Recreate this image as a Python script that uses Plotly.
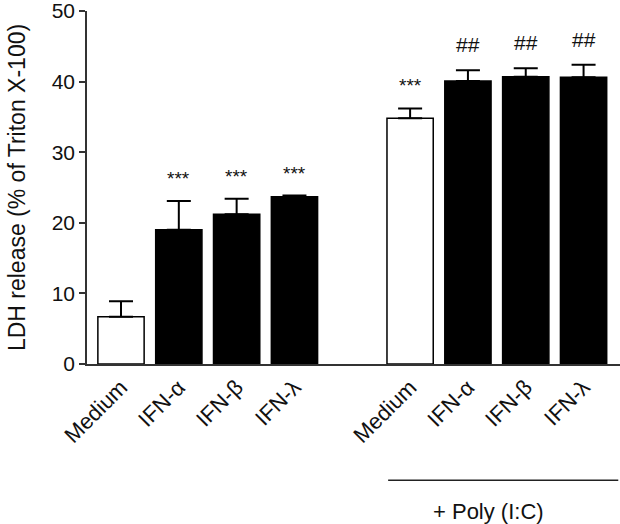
import plotly.graph_objects as go

# ---- data ----
group_labels = ["Medium", "IFN-α", "IFN-β", "IFN-λ"]
ldh_control = [6.7, 19.0, 21.2, 23.7]
err_control = [2.2, 4.1, 2.2, 0.15]
ldh_polyic = [34.8, 40.1, 40.7, 40.6]
err_polyic = [1.4, 1.5, 1.2, 1.8]
sig_control = ["", "***", "***", "***"]
sig_polyic = ["***", "##", "##", "##"]
y_ticks = [0, 10, 20, 30, 40, 50]

FONT = "Arial, Liberation Sans, Helvetica, sans-serif"

n = len(group_labels)
x_ctrl = list(range(n))
x_poly = [n + 1 + i for i in range(n)]

values = ldh_control + ldh_polyic
errs = err_control + err_polyic
xs = x_ctrl + x_poly
labels = group_labels + group_labels
sigs = sig_control + sig_polyic
fills = ["white" if lab == "Medium" else "black" for lab in labels]

fig = go.Figure()
fig.add_trace(go.Bar(
    x=xs, y=values, width=0.8,
    marker=dict(color=fills, line=dict(color="black", width=1.5)),
    error_y=dict(type="data", array=errs, arrayminus=[0] * len(errs),
                 symmetric=False, color="black", thickness=2, width=12),
    hoverinfo="skip", showlegend=False,
))

for x, v, e, s in zip(xs, values, errs, sigs):
    if s:
        star = s.startswith("*")
        fig.add_annotation(
            x=x, y=v + e, xref="x", yref="y", text=s, showarrow=False,
            yanchor="bottom", yshift=10 if star else 12,
            font=dict(family=FONT, size=19 if star else 21, color="#111"),
        )

# Poly (I:C) bracket line and label
fig.add_shape(type="line", xref="x", yref="paper",
              x0=x_poly[0] - 0.38, x1=x_poly[-1] + 0.6, y0=-0.329, y1=-0.329,
              line=dict(color="#222", width=1.5))
fig.add_annotation(x=(x_poly[0] + x_poly[-1]) / 2 - 0.15, y=-0.418, xref="x", yref="paper",
                   text="+ Poly (I:C)", showarrow=False, yanchor="middle",
                   font=dict(family=FONT, size=22, color="#111"))

fig.update_layout(
    width=620, height=524,
    margin=dict(l=87, r=0, t=11, b=160),
    plot_bgcolor="white", paper_bgcolor="white",
    font=dict(family=FONT, size=20, color="#111"),
    bargap=0.2,
)
fig.update_xaxes(
    range=[-0.588, 8.63], tickmode="array", tickvals=xs, ticktext=labels,
    tickangle=-45, ticks="", showline=True, linecolor="#333", linewidth=1.5,
    showgrid=False, zeroline=False, automargin=False,
    tickfont=dict(family=FONT, size=22, color="#111"),
)
fig.update_yaxes(
    range=[0, 50], tickmode="array", tickvals=y_ticks,
    ticks="outside", ticklen=6, tickwidth=1.5, tickcolor="#333",
    showline=True, linecolor="#333", linewidth=1.5, showgrid=False, zeroline=False,
    automargin=False, ticklabeloverflow="allow",
    title=dict(text="LDH release (% of Triton X-100)", standoff=20,
               font=dict(family=FONT, size=23, color="#111")),
    tickfont=dict(family=FONT, size=21, color="#111"),
)

fig.write_html("out.html", config={"displayModeBar": False},
               post_script="document.body.style.margin='0';")
